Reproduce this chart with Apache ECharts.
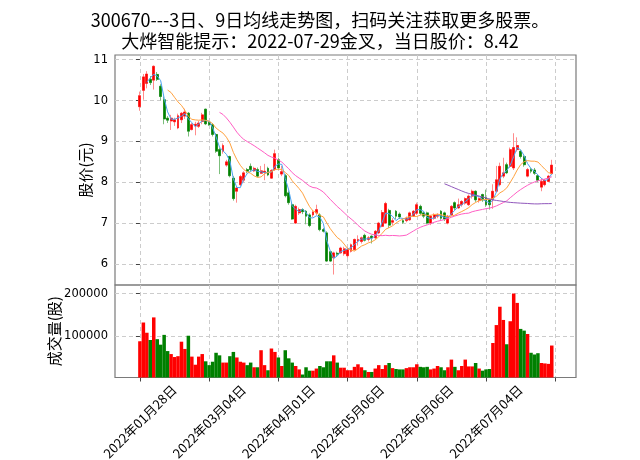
<!DOCTYPE html>
<html>
<head>
<meta charset="utf-8">
<script src="https://cdn.jsdelivr.net/npm/echarts@6/dist/echarts.min.js"></script>
<style>html,body{margin:0;padding:0;background:#fff}#c{width:640px;height:460px}</style>
</head>
<body>
<div id="c"></div>
<script>
// ---------- data ----------
const titleLine1 = '300670---3日、9日均线走势图，扫码关注获取更多股票。';
const titleLine2 = '大烨智能提示：2022-07-29金叉，当日股价：8.42';
const dateTickIndex = [0, 20, 40, 60, 80, 100, 120];
const dateTickLabels = ['2022年01月28日', '2022年03月04日', '2022年04月01日', '2022年05月06日', '2022年06月06日', '2022年07月04日', ''];
const priceTicks = [6, 7, 8, 9, 10, 11];
const volumeTicks = [100000, 200000];
const maWindows = [3, 9, 24, 89];

const opens = [9.85,10.25,10.42,10.52,10.50,10.64,10.35,10.02,9.57,9.50,9.48,9.33,9.53,9.62,9.69,9.29,9.38,9.37,9.49,9.79,
9.47,9.41,9.17,8.80,8.76,8.42,8.63,8.10,7.78,7.94,8.05,8.31,8.39,8.28,8.31,8.22,8.24,8.34,8.10,8.31,
8.55,8.20,8.16,7.74,7.45,7.00,7.25,7.33,7.29,7.20,7.20,7.25,7.20,6.84,6.76,6.30,6.15,6.26,6.27,6.25,
6.20,6.31,6.35,6.56,6.55,6.70,6.60,6.68,6.64,6.76,6.92,7.00,7.31,7.02,7.29,7.22,7.06,7.06,7.08,7.17,
7.24,7.41,7.25,7.25,7.00,7.12,7.17,7.29,7.25,7.00,7.20,7.50,7.37,7.45,7.49,7.45,7.66,7.78,7.55,7.70,
7.62,7.57,7.57,7.78,7.94,8.15,8.43,8.39,8.35,8.80,8.76,8.63,8.15,8.31,8.30,8.16,7.88,7.94,8.02,8.21];
const closes = [10.12,10.58,10.65,10.44,10.84,10.52,10.10,9.55,9.52,9.57,9.53,9.63,9.69,9.72,9.25,9.41,9.42,9.45,9.65,9.43,
9.41,9.17,8.76,8.65,8.90,8.50,8.16,7.60,7.86,8.14,8.23,8.27,8.31,8.34,8.15,8.28,8.27,8.18,8.29,8.70,
8.35,8.26,7.67,7.50,7.10,7.41,7.33,7.28,7.17,6.94,7.27,7.33,6.84,6.80,6.07,6.07,6.27,6.24,6.39,6.37,
6.35,6.47,6.60,6.60,6.64,6.58,6.64,6.64,6.80,7.00,7.26,7.48,6.95,7.06,7.17,7.15,7.02,7.12,7.25,7.29,
7.45,7.24,7.17,7.00,7.17,7.20,7.20,7.12,7.10,7.17,7.41,7.37,7.45,7.53,7.60,7.66,7.78,7.57,7.60,7.57,
7.45,7.45,7.78,8.06,8.39,8.23,8.23,8.80,8.85,8.90,8.63,8.43,8.31,8.27,8.22,8.05,8.02,8.05,8.15,8.42];
const lows = [9.75,10.02,10.30,10.38,10.27,10.48,10.00,9.42,9.45,9.28,9.38,9.30,9.45,9.55,9.12,9.27,9.15,9.33,9.42,9.40,
9.38,9.12,8.72,8.20,8.70,8.38,8.12,7.55,7.50,7.90,8.00,8.22,8.26,8.25,8.12,8.20,8.05,8.15,8.08,8.28,
8.30,8.15,7.63,7.45,7.08,6.98,7.20,7.22,6.97,6.90,7.15,7.20,6.80,6.77,6.05,6.05,5.74,6.18,6.25,6.20,
6.15,6.28,6.33,6.45,6.50,6.55,6.55,6.50,6.60,6.73,6.90,6.98,6.88,6.95,7.10,7.10,6.98,7.02,7.06,7.15,
7.20,7.20,7.12,6.97,6.95,7.08,7.12,7.08,7.05,6.97,7.18,7.32,7.35,7.40,7.45,7.42,7.60,7.52,7.50,7.52,
7.40,7.33,7.35,7.75,7.90,8.10,8.20,8.35,8.30,8.75,8.58,8.38,8.12,8.22,8.18,8.00,7.78,7.90,8.00,8.19];
const highs = [10.22,10.65,10.72,10.60,10.86,10.70,10.40,10.10,9.62,9.65,9.58,9.68,9.72,9.80,9.72,9.45,9.48,9.50,9.70,9.80,
9.50,9.45,9.20,8.85,8.95,8.55,8.65,8.15,7.90,8.18,8.27,8.35,8.46,8.38,8.36,8.40,8.45,8.38,8.32,8.80,
8.60,8.40,8.20,7.80,7.50,7.45,7.38,7.36,7.32,7.24,7.30,7.45,7.24,6.88,6.80,6.32,6.30,6.30,6.42,6.42,
6.40,6.50,6.62,6.70,6.67,6.74,6.68,6.70,6.83,7.03,7.32,7.52,7.35,7.12,7.32,7.26,7.10,7.16,7.28,7.32,
7.50,7.45,7.28,7.28,7.20,7.24,7.24,7.32,7.28,7.20,7.44,7.53,7.60,7.56,7.63,7.70,7.82,7.80,7.63,7.72,
7.82,7.60,7.95,8.40,8.48,8.60,8.48,8.85,9.20,9.10,8.80,8.66,8.35,8.35,8.35,8.20,8.10,8.08,8.18,8.55];
const volumes = [88000,132000,108000,91000,144000,93000,80000,103000,65000,58000,51000,53000,87000,70000,101000,52000,33000,52000,58000,41000,
32000,40000,61000,55000,38000,38000,53000,63000,50000,40000,38000,32000,38000,27000,27000,67000,32000,20000,71000,63000,
50000,30000,67000,48000,38000,30000,22000,10000,27000,19000,19000,24000,30000,27000,41000,41000,55000,38000,26000,26000,
20000,20000,28000,34000,27000,20000,16000,16000,24000,32000,23000,32000,37000,25000,23000,22000,22000,25000,27000,27000,
34000,28000,27000,28000,22000,24000,30000,27000,20000,27000,45000,28000,20000,30000,45000,29000,29000,37000,24000,19000,
22000,23000,84000,126000,169000,138000,81000,135000,200000,178000,117000,113000,105000,61000,57000,60000,37000,36000,35000,78000];

// ---------- styling ----------
const UP = '#ff0000', DOWN = '#008000';
const maColors = ['#4aa3f0', '#ffa23f', '#ff5ec4', '#9158bc'];
const gridLine = { show: true, lineStyle: { color: '#cccccc', width: 1, type: [4, 3] } };
const spine = '#7a7a7a';
const tickStyle = { show: true, length: 4, lineStyle: { color: '#444', width: 1 } };

function movingAverage(w) {
  const out = [];
  for (let i = w - 1; i < closes.length; i++) {
    let s = 0;
    for (let j = i - w + 1; j <= i; j++) s += closes[j];
    out.push([i, s / w]);
  }
  return out;
}

const wickData = closes.map((c, i) => [i, opens[i], c, lows[i], highs[i]]);
const bodyData = closes.map((c, i) => [i, opens[i], c, Math.min(opens[i], c), Math.max(opens[i], c)]);
const volData = volumes.map((v, i) => ({ value: [i, v], itemStyle: { color: closes[i] >= opens[i] ? UP : DOWN } }));

const pMin = Math.min(...lows), pMax = Math.max(...highs), pPad = 0.05 * (pMax - pMin);
const vMin = 0.3 * Math.min(...volumes), vMax = 1.1 * Math.max(...volumes);
const xMin = -7.2, xMax = 126;

const chart = echarts.init(document.getElementById('c'), null, { renderer: 'canvas' });

const maSeries = maWindows.map((w, k) => ({
  type: 'line', name: 'MA' + w, xAxisIndex: 0, yAxisIndex: 0,
  data: movingAverage(w), showSymbol: false, symbol: 'none', z: 5,
  lineStyle: { width: 1, color: maColors[k] }, silent: true
}));

chart.setOption({
  animation: false,
  backgroundColor: '#ffffff',
  title: {
    text: titleLine1 + '\n' + titleLine2,
    left: 'center', top: 5,
    textStyle: { fontSize: 18, fontWeight: 'normal', fontFamily: 'Noto Sans CJK SC', color: '#000', lineHeight: 21 }
  },
  grid: [
    { left: 115, right: 64, top: 55, height: 230, show: true, borderColor: spine, borderWidth: 1.2, outerBoundsMode: 'none', containLabel: false },
    { left: 115, right: 64, top: 285, height: 92.5, show: true, borderColor: spine, borderWidth: 1.2, outerBoundsMode: 'none', containLabel: false }
  ],
  xAxis: [
    {
      gridIndex: 0, type: 'value', min: xMin, max: xMax,
      axisLine: { show: false },
      axisTick: { show: false, customValues: dateTickIndex },
      axisLabel: { show: false, customValues: dateTickIndex },
      splitLine: gridLine
    },
    {
      gridIndex: 1, type: 'value', min: xMin, max: xMax,
      axisLine: { show: false },
      axisTick: Object.assign({ customValues: dateTickIndex }, tickStyle),
      axisLabel: {
        customValues: dateTickIndex.slice(0, 6),
        formatter: v => dateTickLabels[dateTickIndex.indexOf(v)] || '',
        rotate: 45, align: 'center', verticalAlign: 'middle', margin: 44,
        fontSize: 13, fontFamily: 'Noto Sans CJK SC', color: '#000', hideOverlap: false
      },
      splitLine: gridLine
    }
  ],
  yAxis: [
    {
      gridIndex: 0, type: 'value', min: pMin - pPad, max: pMax + pPad,
      name: '股价(元)', nameLocation: 'middle', nameGap: 22, nameMoveOverlap: false,
      nameTextStyle: { fontSize: 15, fontFamily: 'Noto Sans CJK SC', color: '#000' },
      axisLine: { show: false },
      axisTick: Object.assign({ customValues: priceTicks }, tickStyle),
      axisLabel: { customValues: priceTicks, formatter: v => String(v), fontSize: 11.5, fontFamily: 'DejaVu Sans', color: '#000', margin: 7 },
      splitLine: gridLine
    },
    {
      gridIndex: 1, type: 'value', min: vMin, max: vMax,
      name: '成交量(股)', nameLocation: 'middle', nameGap: 53, nameMoveOverlap: false,
      nameTextStyle: { fontSize: 15, fontFamily: 'Noto Sans CJK SC', color: '#000' },
      axisLine: { show: false },
      axisTick: Object.assign({ customValues: volumeTicks }, tickStyle),
      axisLabel: { customValues: volumeTicks, formatter: v => String(Math.round(v)), fontSize: 11.5, fontFamily: 'DejaVu Sans', color: '#000', margin: 7 },
      splitLine: gridLine
    }
  ],
  series: [
    {
      type: 'candlestick', name: 'wick', xAxisIndex: 0, yAxisIndex: 0,
      data: wickData, encode: { x: 0, y: [1, 2, 3, 4] }, barWidth: 2.4, silent: true, z: 2,
      itemStyle: { color: '#ff9a9a', color0: '#8cc68c', borderColor: '#ff8c8c', borderColor0: '#7cbf7c', borderWidth: 1 }
    },
    {
      type: 'candlestick', name: 'body', xAxisIndex: 0, yAxisIndex: 0,
      data: bodyData, encode: { x: 0, y: [1, 2, 3, 4] }, barWidth: 2.4, silent: true, z: 3,
      itemStyle: { color: UP, color0: DOWN, borderColor: UP, borderColor0: DOWN, borderWidth: 0.4 }
    },
    ...maSeries,
    {
      type: 'bar', name: 'volume', xAxisIndex: 1, yAxisIndex: 1,
      data: volData, barWidth: 3.5, silent: true
    }
  ]
});
</script>
</body>
</html>
